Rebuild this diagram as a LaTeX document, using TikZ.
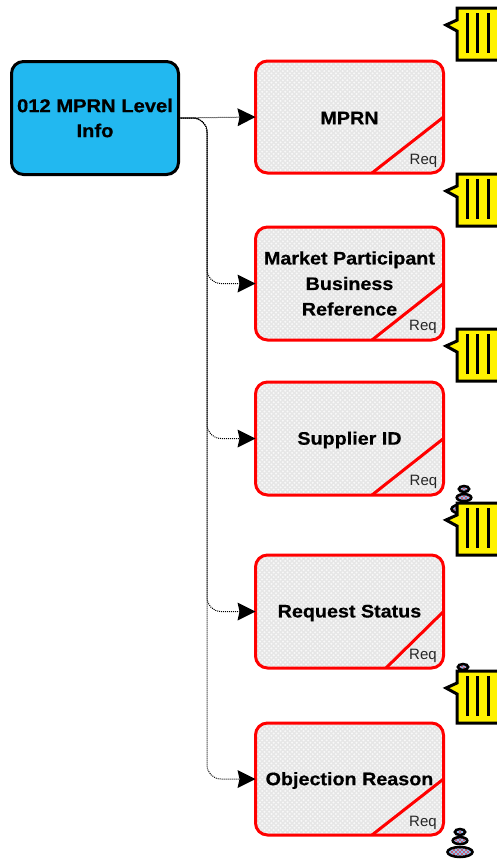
\documentclass[tikz,border=0pt]{standalone}
\usepackage{fontspec}
\setmainfont{Liberation Sans}
\newfontfamily\headfont[FakeStretch=1.09,BoldFeatures={FakeBold=0.6}]{Liberation Sans}
\usetikzlibrary{arrows.meta,patterns}
\definecolor{skyfill}{HTML}{22B8F0}
\definecolor{boxgrey}{HTML}{E6E6E6}
\definecolor{stackblue}{HTML}{8FC2F2}
\pgfdeclarepatternformonly{coarsedots}{\pgfqpoint{-1pt}{-1pt}}{\pgfqpoint{5pt}{5pt}}{\pgfqpoint{4.6pt}{4.6pt}}{%
  \pgfpathcircle{\pgfqpoint{0pt}{0pt}}{1.1pt}
  \pgfpathcircle{\pgfqpoint{2.3pt}{2.3pt}}{1.1pt}
  \pgfusepath{fill}}
\pgfdeclarepatternformonly{stonedots}{\pgfqpoint{-1pt}{-1pt}}{\pgfqpoint{4pt}{4pt}}{\pgfqpoint{4pt}{4pt}}{%
  \pgfpathcircle{\pgfqpoint{0pt}{0pt}}{.85pt}
  \pgfpathcircle{\pgfqpoint{2pt}{2pt}}{.85pt}
  \pgfusepath{fill}}
\newcommand{\lowered}[2]{\raisebox{-#1pt}[\height][\depth]{#2}}
\tikzset{
  x=1pt,y=-1pt,
  rootbox/.style={draw=black,line width=3pt,rounded corners=12pt,fill=skyfill,minimum width=167pt,minimum height=113pt,inner sep=0pt,outer sep=0pt,align=center,font=\headfont\bfseries\fontsize{18.5}{25}\selectfont},
  itembox/.style={draw=red,line width=3pt,rounded corners=12pt,minimum width=188pt,inner sep=0pt,outer sep=0pt,align=center,preaction={fill=boxgrey},preaction={pattern=coarsedots,pattern color=white!70!boxgrey},font=\headfont\bfseries\fontsize{18.1}{25.5}\selectfont},
  reqline/.style={draw=red,line width=3pt},
  reqtext/.style={font=\fontsize{15}{16}\selectfont,text=black!85,inner sep=0pt},
  link/.style={draw=black,line width=1pt,densely dotted,rounded corners=14pt},
  tipped/.style={-{Stealth[inset=2pt,length=18pt,width=18pt,line width=0pt]}},
  stone/.style={draw=black,line width=2.5pt,preaction={fill=stackblue},preaction={pattern=stonedots,pattern color=red}},
  notebody/.style={draw=black,line width=3pt,fill=yellow,miter limit=10},
  notebar/.style={draw=black,line width=3pt},
}
\newcommand{\notemark}[1]{%
  \begin{scope}[shift={(0,#1)}]
    \draw[notebody] (457,0) -- (500,0) -- (500,52) -- (457,52) -- (457,23) -- (446,17) -- (457,12) -- cycle;
    \draw[notebar] (467,5) -- (467,45);
    \draw[notebar] (477.5,5) -- (477.5,45);
    \draw[notebar] (488,5) -- (488,45);
  \end{scope}}
\newcommand{\stackmark}[2]{%
  \begin{scope}[shift={(#1,#2)}]
    \draw[stone] (0,20) ellipse (12.5 and 5);
    \draw[stone] (0,8.6) ellipse (7.3 and 3.5);
    \draw[stone] (0,0) ellipse (5.2 and 3);
  \end{scope}}
\begin{document}
\begin{tikzpicture}
\useasboundingbox (0,0) rectangle (497,860);
\clip (0,0) rectangle (497,860);
\node[rootbox] (root) at (95,118) {012 MPRN Level\\Info};
\node[itembox,minimum height=112pt] (a) at (349.5,117) {\lowered{1}{MPRN}};
\node[itembox,minimum height=113pt] (b) at (349.5,283.5) {Market Participant\\Business\\Reference};
\node[itembox,minimum height=113pt] (c) at (349.5,438.5) {\lowered{1.5}{Supplier ID}};
\node[itembox,minimum height=113pt] (d) at (349.5,611.5) {\lowered{1.5}{Request Status}};
\node[itembox,minimum height=112pt] (e) at (349.5,779) {\lowered{1.5}{Objection Reason}};
\coordinate (trunk) at (207,118);
\draw[reqline] (372,173) -- (a.east);
\draw[reqline] (372,340) -- (b.east);
\draw[reqline] (372,495) -- (c.east);
\draw[reqline] (386,668) -- (d.east);
\draw[reqline] (372,835) -- (e.east);
\node[reqtext] at (423.5,160.5) {Req};
\node[reqtext] at (423,326.5) {Req};
\node[reqtext] at (423.5,481.5) {Req};
\node[reqtext] at (423,655.5) {Req};
\node[reqtext] at (423,822.5) {Req};
\draw[link,tipped] (root.east) -- (a.west);
\draw[link,tipped] (root.east) -- (trunk) |- (b.west);
\draw[link,tipped] (root.east) -- (trunk) |- (c.west);
\draw[link,tipped] (root.east) -- (trunk) |- (d.west);
\draw[link,tipped] (root.east) -- (trunk) |- (e.west);
\stackmark{464}{489}
\draw[stone] (463,667) ellipse (5.2 and 3);
\stackmark{460}{832}
\notemark{8}
\notemark{174}
\notemark{329}
\notemark{503}
\notemark{671}
\end{tikzpicture}
\end{document}
